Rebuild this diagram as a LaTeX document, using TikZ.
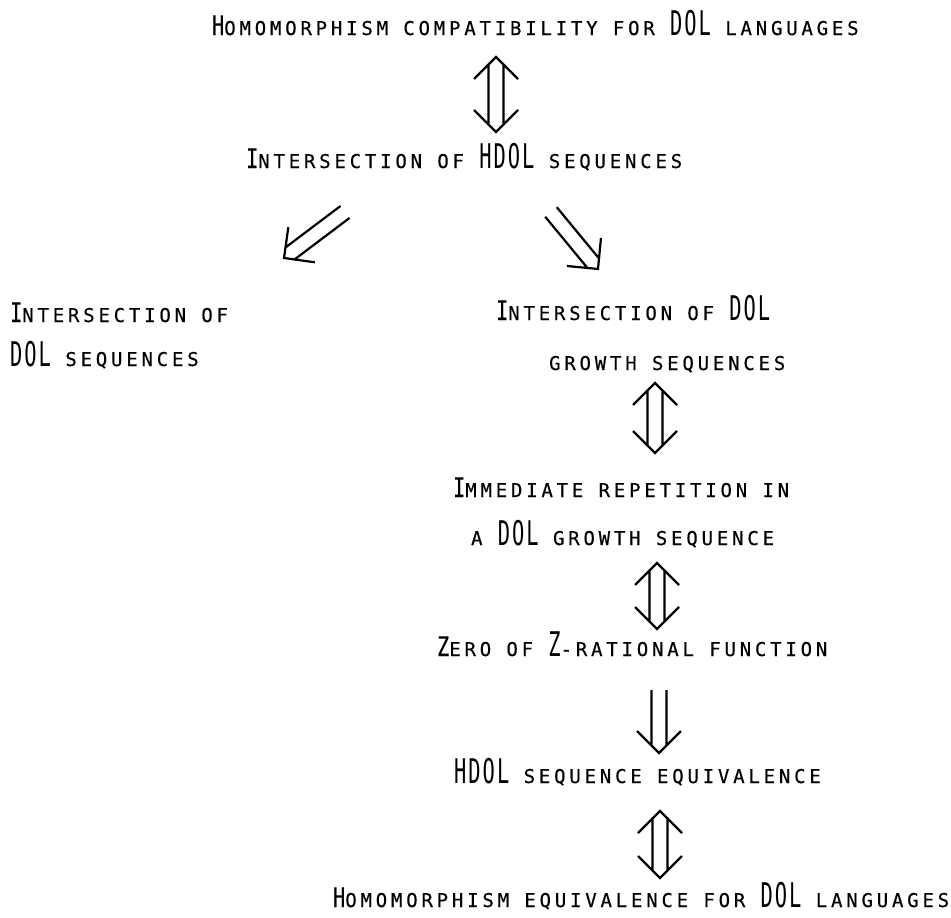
\documentclass[tikz,border=0pt]{standalone}
\usepackage{fontspec}
\usepackage{tikz}
\usetikzlibrary{calc}

\newfontfamily\smcfont[LetterSpace=20,FakeBold=0.4]{DejaVu Sans Mono}
\newfontfamily\bigcfont[FakeStretch=0.75,LetterSpace=9,FakeBold=0.3]{DejaVu Sans Mono}
\newfontfamily\tallcfont[FakeStretch=0.6,LetterSpace=6]{DejaVu Sans Mono}
\newcommand*\smc{\fontsize{19}{21}\smcfont}
\newcommand*\bigc{\fontsize{27}{30}\bigcfont}
\newcommand*\tallc{\fontsize{34}{36}\tallcfont}

\begin{document}
\begin{tikzpicture}[x=1pt,y=-1pt,line width=2.2pt,
  lbl/.style={anchor=base west,inner sep=0pt},
  imp/.style={to path={let \p1=($(\tikztotarget)-(\tikztostart)$),
      \n1={atan2(\y1,\x1)}, \n2={veclen(\x1,\y1)} in
      [shift={(\tikztostart)},rotate=\n1]
      (0pt,7.5pt) -- ({\n2*1pt-8pt},7.5pt) (0pt,-7.5pt) -- ({\n2*1pt-8pt},-7.5pt)
      ({\n2*1pt-22pt},22pt) -- ({\n2*1pt},0pt) -- ({\n2*1pt-22pt},-22pt)}},
  iff/.style={to path={let \p1=($(\tikztotarget)-(\tikztostart)$),
      \n1={atan2(\y1,\x1)}, \n2={veclen(\x1,\y1)} in
      [shift={(\tikztostart)},rotate=\n1]
      (8pt,7.5pt) -- ({\n2*1pt-8pt},7.5pt) (8pt,-7.5pt) -- ({\n2*1pt-8pt},-7.5pt)
      (22pt,22pt) -- (0pt,0pt) -- (22pt,-22pt)
      ({\n2*1pt-22pt},22pt) -- ({\n2*1pt},0pt) -- ({\n2*1pt-22pt},-22pt)}}]
\useasboundingbox (0,0) rectangle (951,918);

\node[lbl] (homcomp)  at (211,35)  {\bigc H\smc OMOMORPHISM COMPATIBILITY FOR \tallc DOL \smc LANGUAGES};
\node[lbl] (hdolint)  at (245,168) {\bigc I\smc NTERSECTION OF \tallc HDOL \smc SEQUENCES};
\node[lbl] (dolint)   at (9,322)   {\bigc I\smc NTERSECTION OF};
\node[lbl] (dolint2)  at (9,366)   {\tallc DOL \smc SEQUENCES};
\node[lbl] (growint)  at (495,320) {\bigc I\smc NTERSECTION OF \tallc DOL};
\node[lbl] (growint2) at (548,370) {\smc GROWTH SEQUENCES};
\node[lbl] (immrep)   at (452,497) {\bigc I\smc MMEDIATE REPETITION IN};
\node[lbl] (immrep2)  at (470,545) {\smc A \tallc DOL \smc GROWTH SEQUENCE};
\node[lbl] (zrat)     at (436,656) {\bigc Z\smc ERO OF \tallc Z\smc -RATIONAL FUNCTION};
\node[lbl] (hdoleq)   at (453,783) {\tallc HDOL \smc SEQUENCE EQUIVALENCE};
\node[lbl] (homeq)    at (332,907) {\bigc H\smc OMOMORPHISM EQUIVALENCE FOR \tallc DOL \smc LANGUAGES};

% arrow ends
\coordinate (a1t) at (496,57);  \coordinate (a1b) at (496,132);
\coordinate (a2t) at (345,212); \coordinate (a2b) at (284,258);
\coordinate (a3t) at (551,212); \coordinate (a3b) at (598,269);
\coordinate (a4t) at (655,383); \coordinate (a4b) at (655,453);
\coordinate (a5t) at (657,563); \coordinate (a5b) at (657,629);
\coordinate (a6t) at (659,690); \coordinate (a6b) at (659,753);
\coordinate (a7t) at (660,811); \coordinate (a7b) at (660,878);

\path (a1t) edge[iff] (a1b)
      (a2t) edge[imp] (a2b)
      (a3t) edge[imp] (a3b)
      (a4t) edge[iff] (a4b)
      (a5t) edge[iff] (a5b)
      (a6t) edge[imp] (a6b)
      (a7t) edge[iff] (a7b);

\end{tikzpicture}
\end{document}
